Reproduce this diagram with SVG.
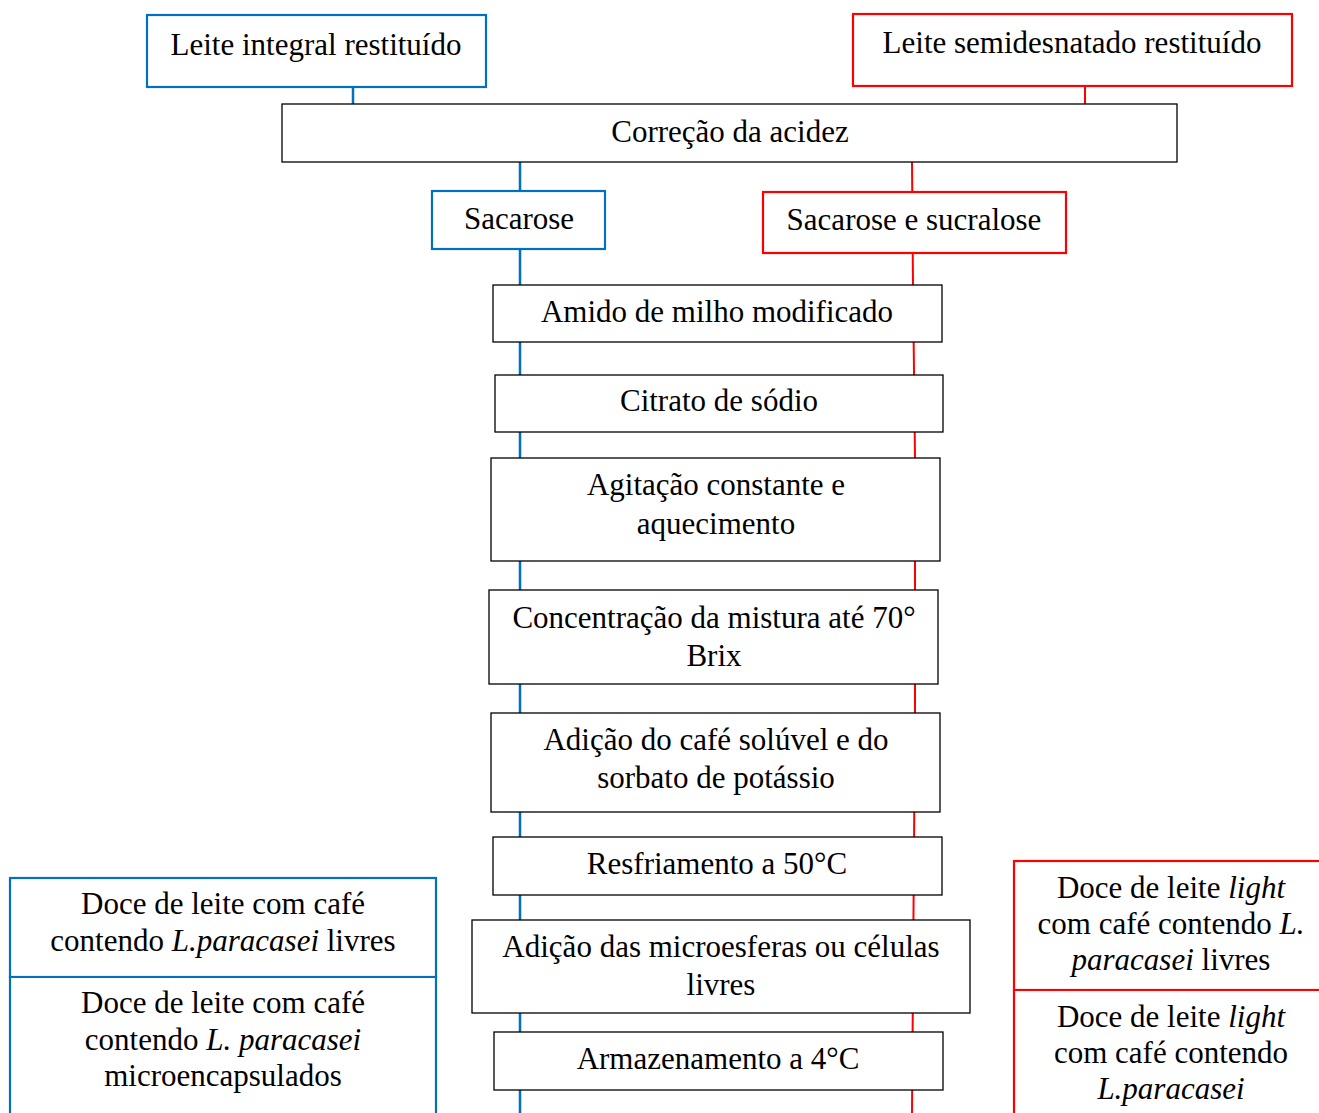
<svg xmlns="http://www.w3.org/2000/svg" width="1319" height="1113" viewBox="0 0 1319 1113">
<style>
text{font-family:'Liberation Serif','Times New Roman','DejaVu Serif',serif;font-size:31px;fill:#000;text-anchor:middle}
.i{font-style:italic}
.k{fill:#fff;stroke:#000;stroke-width:1.3}
.b{fill:#fff;stroke:#0070C0;stroke-width:2.2}
.r{fill:#fff;stroke:#FF0000;stroke-width:2.2}
.cb{stroke:#0070C0;stroke-width:2.5;fill:none}
.cr{stroke:#FF0000;stroke-width:2;fill:none}
</style>
<rect width="1319" height="1113" fill="#fff"/>
<g id="connectors">
<line class="cb" x1="353" y1="87" x2="353" y2="104"/>
<line class="cr" x1="1085" y1="86" x2="1085" y2="104"/>
<line class="cb" x1="520" y1="162" x2="520" y2="1113"/>
<polyline class="cr" points="912,162 913,285 915,458 915,713 912,1113"/>
</g>
<g id="leite-integral"><rect class="b" x="147" y="15" width="339" height="72"/><text x="316" y="55">Leite integral restituído</text></g>
<g id="leite-semidesnatado"><rect class="r" x="853" y="14" width="439" height="72"/><text x="1072" y="53">Leite semidesnatado restituído</text></g>
<g id="correcao"><rect class="k" x="282" y="104" width="895" height="58"/><text x="730" y="142">Correção da acidez</text></g>
<g id="sacarose"><rect class="b" x="432" y="191" width="173" height="58"/><text x="519" y="229">Sacarose</text></g>
<g id="sacarose-sucralose"><rect class="r" x="763" y="192" width="303" height="61"/><text x="914" y="230">Sacarose e sucralose</text></g>
<g id="amido"><rect class="k" x="493" y="285" width="449" height="57"/><text x="717" y="322">Amido de milho modificado</text></g>
<g id="citrato"><rect class="k" x="495" y="375" width="448" height="57"/><text x="719" y="411">Citrato de sódio</text></g>
<g id="agitacao"><rect class="k" x="491" y="458" width="449" height="103"/><text x="716" y="495">Agitação constante e</text><text x="716" y="534">aquecimento</text></g>
<g id="concentracao"><rect class="k" x="489" y="590" width="449" height="94"/><text x="714" y="628">Concentração da mistura até 70°</text><text x="714" y="666">Brix</text></g>
<g id="adicao-cafe"><rect class="k" x="491" y="713" width="449" height="99"/><text x="716" y="750">Adição do café solúvel e do</text><text x="716" y="788">sorbato de potássio</text></g>
<g id="resfriamento"><rect class="k" x="493" y="837" width="449" height="58"/><text x="717" y="874">Resfriamento a 50°C</text></g>
<g id="adicao-microesferas"><rect class="k" x="472" y="920" width="498" height="93"/><text x="721" y="957">Adição das microesferas ou células</text><text x="721" y="995">livres</text></g>
<g id="armazenamento"><rect class="k" x="494" y="1032" width="449" height="58"/><text x="718" y="1069">Armazenamento a 4°C</text></g>
<g id="doce-livres"><rect class="b" x="10" y="878" width="426" height="99"/><text x="223" y="914">Doce de leite com café</text><text x="223" y="951">contendo <tspan class="i">L.paracasei</tspan> livres</text></g>
<g id="doce-micro"><path class="b" d="M10,1115 V977 H436 V1115"/><text x="223" y="1013">Doce de leite com café</text><text x="223" y="1050">contendo <tspan class="i">L. paracasei</tspan></text><text x="223" y="1086">microencapsulados</text></g>
<g id="doce-light-livres"><rect class="r" x="1014" y="861" width="320" height="129"/><text x="1171" y="898">Doce de leite <tspan class="i">light</tspan></text><text x="1171" y="934">com café contendo <tspan class="i">L.</tspan></text><text x="1171" y="970"><tspan class="i">paracasei</tspan> livres</text></g>
<g id="doce-light-micro"><path class="r" d="M1014,1115 V990 H1325"/><text x="1171" y="1027">Doce de leite <tspan class="i">light</tspan></text><text x="1171" y="1063">com café contendo</text><text x="1171" y="1099"><tspan class="i">L.paracasei</tspan></text></g>
</svg>
